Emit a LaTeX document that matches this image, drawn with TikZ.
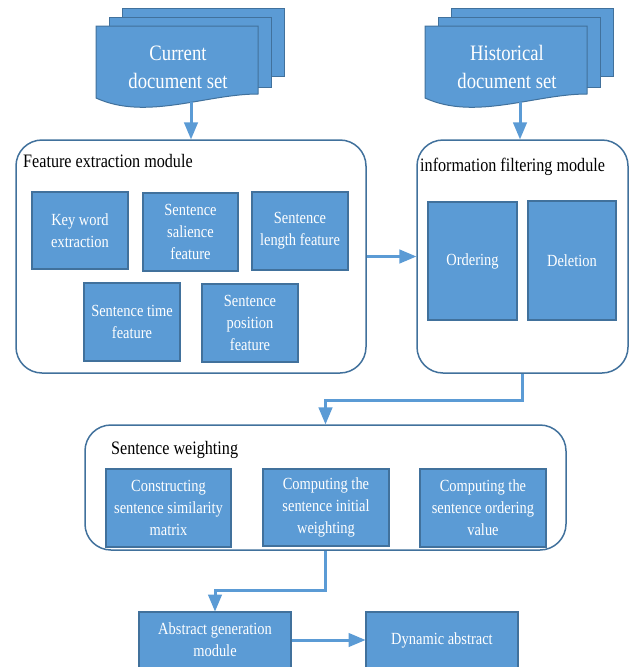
\documentclass[tikz,border=0pt]{standalone}
\usepackage{fontspec}
\setmainfont{Liberation Serif}[FakeStretch=0.85]
\usepackage{tikz}
\usetikzlibrary{arrows}
\definecolor{boxblue}{HTML}{5B9BD5}
\definecolor{edgeblue}{HTML}{41719C}
\tikzset{
  modbox/.style = {draw=edgeblue, line width=1.5pt, rounded corners=26pt,
    fill=white, inner sep=0pt},% module frame
  subbox/.style = {draw=edgeblue, line width=1.2pt, fill=boxblue, text=white,
    align=center, inner sep=0pt, font=\fontsize{17}{22}\selectfont},% step inside a module
  modtitle/.style = {anchor=west, inner sep=0pt,
    font=\fontsize{19}{22}\selectfont},% module name
  docpage/.style = {draw=edgeblue, line width=1pt, fill=boxblue},% one sheet of a stack
  flow/.style = {->, >=triangle 45, draw=boxblue, line width=3pt},
  pics/docset/.style = {code={
    \draw[docpage] (26,-18) rectangle (188,50);
    \draw[docpage] (13,-9) rectangle (175,61);
    \draw[docpage] (0,72) -- (0,0) -- (162,0) -- (162,68)
      .. controls (110,68) and (50,95) .. (0,72) -- cycle;
    \node[text=white, align=center, inner sep=0pt,
      font=\fontsize{22}{28}\selectfont] (-txt) at (82,41) {#1};
    \coordinate (-out) at (95,76);
  }}
}
\begin{document}
\begin{tikzpicture}[x=1pt, y=-1pt]
\useasboundingbox (0,0) rectangle (629,667);
\clip (0,0) rectangle (629,667);

% document stacks
\pic (cur) at (96,26) {docset={Current\\document set}};
\pic (hist) at (425,26) {docset={Historical\\document set}};

% feature extraction
\node[modbox, minimum width=350pt, minimum height=233pt] (feat) at (191,256.5) {};
\node[modtitle] (feat-t) at (23,161) {Feature extraction module};
\node[subbox, minimum width=96pt, minimum height=77pt] (kw) at (80,230.5) {Key word\\extraction};
\node[subbox, minimum width=95pt, minimum height=78pt] (sal) at (190.5,232) {Sentence\\salience\\feature};
\node[subbox, minimum width=96pt, minimum height=78pt] (len) at (300,231) {Sentence\\length feature};
\node[subbox, minimum width=96pt, minimum height=78pt] (time) at (132,322) {Sentence time\\feature};
\node[subbox, minimum width=96pt, minimum height=78pt] (pos) at (250,323) {Sentence\\position\\feature};

% information filtering
\node[modbox, minimum width=211pt, minimum height=233pt] (info) at (522.5,256.5) {};
\node[modtitle] (info-t) at (420,167) {information filtering module};
\node[subbox, minimum width=89pt, minimum height=118pt] (ord) at (472.5,261) {Ordering};
\node[subbox, minimum width=88pt, minimum height=119pt] (del) at (572,260.5) {Deletion};

% sentence weighting
\node[modbox, minimum width=481pt, minimum height=125pt] (weight) at (325.5,487.5) {};
\node[modtitle] (weight-t) at (111,450) {Sentence weighting};
\node[subbox, minimum width=125pt, minimum height=78pt] (sim) at (168.5,508) {Constructing\\sentence similarity\\matrix};
\node[subbox, minimum width=126pt, minimum height=77pt] (init) at (326,507.5) {Computing the\\sentence initial\\weighting};
\node[subbox, minimum width=126pt, minimum height=78pt] (val) at (483,508) {Computing the\\sentence ordering\\value};

% output
\node[subbox, minimum width=152pt, minimum height=56pt] (gen) at (215,640) {Abstract generation\\module};
\node[subbox, minimum width=152pt, minimum height=56pt] (dyn) at (442,640) {Dynamic abstract};

% connectors
\draw[flow] (cur-out) -- (cur-out |- feat.north);
\draw[flow] (hist-out) -- (hist-out |- info.north);
\draw[flow] (feat.east) -- (info.west);
\draw[flow] (info.south) -- ++(0,27) -| (weight.north);
\draw[flow] (weight.south) -- ++(0,40) -| (gen.north);
\draw[flow] (gen.east) -- (dyn.west);
\end{tikzpicture}
\end{document}
